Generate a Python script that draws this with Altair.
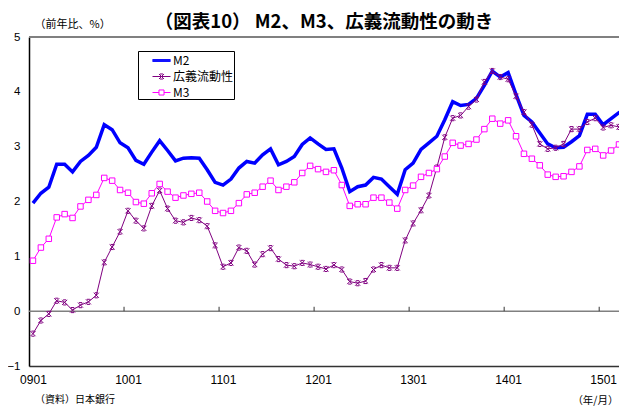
import altair as alt
import pandas as pd

# ---- data (year-on-year %, monthly 2009/01 .. 2015/04) ----
series_names = ["M2", "広義流動性", "M3"]
series_colors = ["#0000FF", "#800080", "#FF00FF"]
tick_labels = ["0901", "1001", "1101", "1201", "1301", "1401", "1501"]

m2 = [1.97, 2.15, 2.26, 2.68, 2.68, 2.54, 2.73, 2.84, 2.99, 3.40,
      3.31, 3.07, 2.98, 2.75, 2.68, 2.90, 3.11, 2.93, 2.74, 2.79,
      2.80, 2.79, 2.58, 2.35, 2.30, 2.41, 2.61, 2.73, 2.70, 2.85,
      2.96, 2.67, 2.73, 2.82, 3.04, 3.16, 3.05, 2.95, 2.96, 2.61,
      2.18, 2.27, 2.30, 2.44, 2.41, 2.27, 2.13, 2.58, 2.70, 2.95,
      3.07, 3.19, 3.49, 3.82, 3.75, 3.77, 3.88, 4.12, 4.38, 4.27,
      4.35, 3.95, 3.57, 3.45, 3.25, 3.05, 2.98, 2.99, 3.09, 3.20,
      3.59, 3.59, 3.40, 3.51, 3.62, 3.59]

broad = [-0.41, -0.17, -0.05, 0.19, 0.16, 0.02, 0.11, 0.17, 0.29, 0.89,
         1.17, 1.45, 1.83, 1.65, 1.51, 1.92, 2.20, 1.87, 1.65, 1.62,
         1.70, 1.66, 1.55, 1.20, 0.81, 0.88, 1.16, 1.10, 0.85, 1.04,
         1.15, 0.95, 0.84, 0.82, 0.88, 0.85, 0.81, 0.77, 0.84, 0.76,
         0.54, 0.51, 0.55, 0.76, 0.84, 0.79, 0.79, 1.29, 1.60, 1.84,
         2.11, 2.62, 3.17, 3.52, 3.57, 3.73, 3.86, 4.18, 4.38, 4.27,
         4.23, 3.92, 3.63, 3.40, 3.05, 2.96, 2.98, 3.05, 3.32, 3.32,
         3.45, 3.52, 3.35, 3.39, 3.36, 3.16]

m3 = [0.92, 1.16, 1.32, 1.71, 1.77, 1.70, 1.91, 2.03, 2.12, 2.43,
      2.38, 2.21, 2.16, 1.99, 1.96, 2.15, 2.32, 2.18, 2.07, 2.11,
      2.14, 2.16, 2.00, 1.83, 1.79, 1.83, 1.97, 2.13, 2.16, 2.27,
      2.38, 2.21, 2.27, 2.35, 2.52, 2.65, 2.59, 2.54, 2.57, 2.30,
      1.92, 1.95, 1.95, 2.07, 2.07, 1.98, 1.87, 2.21, 2.29, 2.45,
      2.52, 2.59, 2.82, 3.07, 3.02, 3.05, 3.13, 3.32, 3.51, 3.42,
      3.48, 3.19, 2.87, 2.78, 2.66, 2.49, 2.45, 2.46, 2.54, 2.64,
      2.94, 2.96, 2.84, 2.93, 3.04, 3.01]

year_boundaries = [11.5, 23.5, 35.5, 47.5, 59.5, 71.5]

title_text = "（図表10） M2、M3、広義流動性の動き"
y_title = "（前年比、%）"
x_title = "（年/月）"
source_text = "（資料）日本銀行"

# ---- tables ----
rows = []
for name, vals in zip(series_names, [m2, broad, m3]):
    for i, v in enumerate(vals):
        rows.append({"series": name, "i": i, "v": v})
df = pd.DataFrame(rows)

cjk = "Noto Sans CJK JP"
num_font = "Liberation Sans Narrow, Arial Narrow, Liberation Sans, sans-serif"

label_expr = "[" + ",".join(f"'{t}'" for t in tick_labels) + "][round(datum.value / 12)]"

x_enc = alt.X(
    "i:Q",
    scale=alt.Scale(domain=[-0.5, 74.0], nice=False, zero=False),
    axis=alt.Axis(
        values=list(range(0, 76, 12)), labelExpr=label_expr, ticks=False, grid=False,
        domainColor="#333333", domainWidth=1.5, labelFont=num_font, labelFontSize=12,
        labelColor="black", labelPadding=8, labelFlush=False,
        title=x_title, titleFont=cjk, titleFontSize=10.5, titleFontWeight="normal",
        titleColor="black", titleAlign="right", titleBaseline="middle",
        titleX=589, titleY=34,
    ),
)
y_enc = alt.Y(
    "v:Q",
    scale=alt.Scale(domain=[-1, 5], nice=False, zero=False),
    axis=alt.Axis(
        values=[-1, 0, 1, 2, 3, 4, 5], ticks=False, grid=False,
        domainColor="black", domainWidth=1.5, labelFont=num_font, labelFontSize=11.5,
        labelColor="black", labelPadding=9,
        title=y_title, titleFont=cjk, titleFontSize=11, titleFontWeight="normal",
        titleColor="black", titleAngle=0, titleAlign="left", titleBaseline="middle",
        titleX=5, titleY=-13,
    ),
)

zero_rule = alt.Chart(pd.DataFrame({"v": [0]})).mark_rule(
    color="#808080", strokeWidth=1.5).encode(y=y_enc)
top_rule = alt.Chart(pd.DataFrame({"v": [5]})).mark_rule(
    color="#808080", strokeWidth=2).encode(y=y_enc)
ticks_df = pd.DataFrame({"i": year_boundaries, "v": [0] * 6, "v2": [0.08] * 6})
tick_rules = alt.Chart(ticks_df).mark_rule(color="#333333", strokeWidth=1).encode(
    x=x_enc, y=y_enc, y2="v2:Q")

m2_line = alt.Chart(df).transform_filter(alt.datum.series == "M2").mark_line(
    color=series_colors[0], strokeWidth=3.5, clip=True).encode(x=x_enc, y=y_enc)

star_path = "M-1,-1L1,1M-1,1L1,-1M-0.6,-1H0.6M-0.6,1H0.6"
broad_line = alt.Chart(df).transform_filter(alt.datum.series == "広義流動性").mark_line(
    color=series_colors[1], strokeWidth=1, clip=True).encode(x=x_enc, y=y_enc)
broad_pts = alt.Chart(df).transform_filter(alt.datum.series == "広義流動性").mark_point(
    shape=star_path, size=26, color=series_colors[1], strokeWidth=1, filled=False,
    opacity=1, clip=True).encode(x=x_enc, y=y_enc)

m3_line = alt.Chart(df).transform_filter(alt.datum.series == "M3").mark_line(
    color=series_colors[2], strokeWidth=1, clip=True).encode(x=x_enc, y=y_enc)
m3_pts = alt.Chart(df).transform_filter(alt.datum.series == "M3").mark_point(
    shape="square", size=30, fill="white", stroke=series_colors[2], strokeWidth=1,
    filled=True, opacity=1, clip=True).encode(x=x_enc, y=y_enc)

# legend (symbols drawn as line + marker)
leg_shapes = [
    "M-1,-0.1H1M-1,-0.033H1M-1,0.033H1M-1,0.1H1",
    "M-1,0H1M-0.28,-0.28L0.28,0.28M-0.28,0.28L0.28,-0.28M-0.17,-0.28H0.17M-0.17,0.28H0.17",
    "M-1,0H-0.28M0.28,0H1M-0.28,-0.28H0.28V0.28H-0.28Z",
]
legend = alt.Legend(
    title=None,
    orient="none", legendX=109, legendY=14, direction="vertical",
    strokeColor="black", fillColor="white", padding=0, cornerRadius=0,
    symbolSize=324, symbolOffset=14, symbolStrokeWidth=1, labelOffset=2, rowPadding=0,
    labelFont=cjk, labelFontSize=12, labelColor="black",
)
legend_layer = alt.Chart(df).transform_filter("false").mark_point(
    filled=False, opacity=1).encode(
    color=alt.Color("series:N", scale=alt.Scale(domain=series_names, range=series_colors),
                    legend=legend),
    shape=alt.Shape("series:N", scale=alt.Scale(domain=series_names, range=leg_shapes),
                    legend=legend),
)

source = alt.Chart(pd.DataFrame({"t": [source_text]})).mark_text(
    align="left", baseline="middle", font=cjk, fontSize=10, color="black").encode(
    x=alt.value(6), y=alt.value(363), text="t:N")

chart = alt.layer(
    zero_rule, top_rule, tick_rules,
    m2_line, broad_line, broad_pts, m3_line, m3_pts,
    legend_layer, source,
).properties(
    width=590, height=329,
    title=alt.TitleParams(title_text, font=cjk, fontSize=18.5, fontWeight="bold",
                          color="black", anchor="middle", frame="group", offset=0, dy=13),
    autosize=alt.AutoSizeParams(type="none"),
    padding={"left": 21, "top": 29, "right": 0, "bottom": 41},
).configure_view(stroke=None).configure(background="white")

chart.save("out.html", embed_options={"renderer": "svg", "actions": False})
